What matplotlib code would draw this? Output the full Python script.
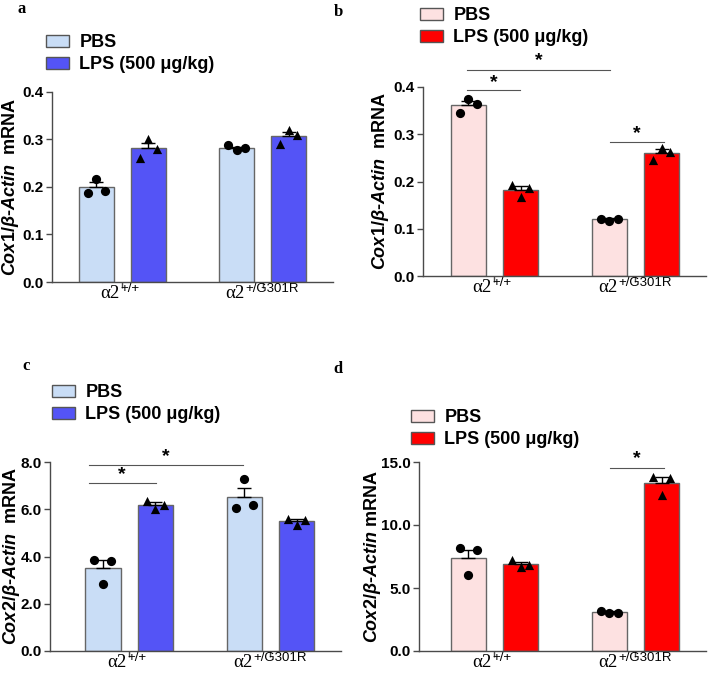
import matplotlib
matplotlib.use("Agg")
import matplotlib.pyplot as plt
from matplotlib.patches import Patch

plt.rcParams['font.family'] = ['Liberation Sans', 'DejaVu Sans']
plt.rcParams['mathtext.fontset'] = 'custom'
plt.rcParams['mathtext.it'] = 'Liberation Sans:italic:bold'
plt.rcParams['mathtext.rm'] = 'Liberation Sans:bold'
plt.rcParams['mathtext.bf'] = 'Liberation Sans:bold'

genotypes = ['+/+', '+/G301R']
legend_labels = ['PBS', 'LPS (500 \u03bcg/kg)']

# bar heights (mean) and SEM, [WT, mutant]
a_pbs = [0.200, 0.283]
a_pbs_err = [0.010, 0.002]
a_lps = [0.282, 0.307]
a_lps_err = [0.011, 0.008]
a_pbs_pts = [[0.188, 0.217, 0.191], [0.288, 0.278, 0.282]]
a_lps_pts = [[0.262, 0.300, 0.281], [0.290, 0.319, 0.310]]

b_pbs = [0.361, 0.120]
b_pbs_err = [0.009, 0.002]
b_lps = [0.183, 0.260]
b_lps_err = [0.007, 0.008]
b_pbs_pts = [[0.344, 0.374, 0.363], [0.121, 0.116, 0.121]]
b_lps_pts = [[0.192, 0.168, 0.187], [0.245, 0.270, 0.263]]

c_pbs = [3.51, 6.52]
c_pbs_err = [0.33, 0.36]
c_lps = [6.19, 5.49]
c_lps_err = [0.10, 0.08]
c_pbs_pts = [[3.84, 2.82, 3.81], [6.06, 7.29, 6.19]]
c_lps_pts = [[6.33, 6.02, 6.16], [5.60, 5.32, 5.53]]

d_pbs = [7.41, 3.10]
d_pbs_err = [0.63, 0.05]
d_lps = [6.93, 13.33]
d_lps_err = [0.17, 0.45]
d_pbs_pts = [[8.20, 6.06, 7.99], [3.17, 3.02, 3.04]]
d_lps_pts = [[7.20, 6.67, 6.80], [13.80, 12.35, 13.75]]

blue_light = '#C9DDF6'
blue_dark = '#5454F6'
pink = '#FDE1E1'
red = '#FF0000'
axcol = '#4a4a4a'

W, H = 708, 678
fig = plt.figure(figsize=(W / 100, H / 100), dpi=100)


def px_axes(l, t, r, b):
    return fig.add_axes([l / W, 1 - b / H, (r - l) / W, (b - t) / H])


def panel(ax, pbs, pbs_err, lps, lps_err, pbs_pts, lps_pts, cols, ymax, step,
          ylabel, xmin, lab_dx):
    off = 0.185
    bw = 0.25
    jit = [-0.06, 0, 0.06]
    for i in range(2):
        for x, h, e, pts, c, mk in [(i - off, pbs[i], pbs_err[i], pbs_pts[i], cols[0], 'o'),
                                     (i + off, lps[i], lps_err[i], lps_pts[i], cols[1], '^')]:
            ax.bar(x, h, width=bw, color=c, edgecolor='#666666', linewidth=1.0, zorder=2)
            ax.errorbar(x, h, yerr=[[0], [e]], color='black', capsize=5, elinewidth=1,
                        capthick=1, zorder=3)
            ax.scatter([x + j for j in jit], pts, marker=mk, s=44, color='black', zorder=4,
                       clip_on=False, linewidths=0)
    ax.set_xlim(xmin, 1.5)
    ax.set_ylim(0, ymax)
    ticks = [k * step for k in range(int(round(ymax / step)) + 1)]
    ax.set_yticks(ticks)
    ax.set_yticklabels(['{:.1f}'.format(t) for t in ticks], fontsize=11, fontweight='bold')
    ax.set_xticks([0, 1])
    ax.set_xticklabels([])
    for s in ['top', 'right']:
        ax.spines[s].set_visible(False)
    for s in ['left', 'bottom']:
        ax.spines[s].set_color(axcol)
        ax.spines[s].set_linewidth(1.0)
    ax.tick_params(axis='both', color=axcol, width=1.0, length=4, pad=2)
    ax.set_ylabel(ylabel, fontsize=13, fontweight='bold')
    w_px = ax.get_position().width * W
    ax.yaxis.set_label_coords(-lab_dx / w_px, 0.5)
    for i, g in enumerate(genotypes):
        dx = -3 if g == '+/+' else -18
        ax.annotate('\u03b12', xy=(i, 0), xycoords=('data', 'axes fraction'),
                    xytext=(dx, -16), textcoords='offset pixels', ha='right',
                    va='baseline', fontsize=13.5, family='Liberation Serif')
        ax.annotate(g, xy=(i, 0), xycoords=('data', 'axes fraction'),
                    xytext=(dx + 1, -10), textcoords='offset pixels', ha='left',
                    va='baseline', fontsize=9.5)


def bracket(ax, x1, x2, y, ytxt):
    ax.plot([x1, x2], [y, y], color='#555555', lw=0.8, clip_on=False)
    ax.text((x1 + x2) / 2, ytxt, '*', ha='center', va='center', fontsize=14,
            fontweight='bold', clip_on=False)


def legend(cols, x, y):
    handles = [Patch(facecolor=c, edgecolor='#555555', linewidth=1) for c in cols]
    fig.legend(handles, legend_labels, loc='upper left',
               bbox_to_anchor=(x / W, 1 - y / H), frameon=False,
               prop={'weight': 'bold', 'size': 13}, handlelength=1.3,
               handleheight=0.65, handletextpad=0.55, labelspacing=0.28,
               borderpad=0, borderaxespad=0)


ylab1 = r'$\mathit{Cox1/\beta}$' + '-' + r'$\mathit{Actin}$' + '  mRNA'
ylab2 = r'$\mathit{Cox2/\beta}$' + '-' + r'$\mathit{Actin}$' + '  mRNA'
ylab2d = r'$\mathit{Cox2/\beta}$' + '-' + r'$\mathit{Actin}$' + ' mRNA'

ax_a = px_axes(52, 92, 333, 282)
panel(ax_a, a_pbs, a_pbs_err, a_lps, a_lps_err, a_pbs_pts, a_lps_pts,
      (blue_light, blue_dark), 0.4, 0.1, ylab1, -0.5, 31)

ax_b = px_axes(423, 87, 706, 276)
panel(ax_b, b_pbs, b_pbs_err, b_lps, b_lps_err, b_pbs_pts, b_lps_pts,
      (pink, red), 0.4, 0.1, ylab1, -0.507, 32)
bracket(ax_b, -0.195, 0.82, 0.437, 0.455)
bracket(ax_b, -0.195, 0.18, 0.393, 0.410)
bracket(ax_b, 0.82, 1.2, 0.284, 0.302)

ax_c = px_axes(50, 462, 341, 651)
panel(ax_c, c_pbs, c_pbs_err, c_lps, c_lps_err, c_pbs_pts, c_lps_pts,
      (blue_light, blue_dark), 8.0, 2.0, ylab2, -0.56, 28)
bracket(ax_c, -0.287, 0.805, 7.86, 8.22)
bracket(ax_c, -0.287, 0.188, 7.11, 7.47)

ax_d = px_axes(419, 462, 706, 651)
panel(ax_d, d_pbs, d_pbs_err, d_lps, d_lps_err, d_pbs_pts, d_lps_pts,
      (pink, red), 15.0, 5.0, ylab2d, -0.535, 36)
bracket(ax_d, 0.82, 1.2, 14.55, 15.25)

legend((blue_light, blue_dark), 46, 34)
legend((pink, red), 420, 7)
legend((blue_light, blue_dark), 52, 384)
legend((pink, red), 411, 409)

for lab, x, y in [('a', 22, 9), ('b', 338, 12), ('c', 26, 366), ('d', 338, 369)]:
    fig.text(x / W, 1 - y / H, lab, ha='center', va='center', fontsize=12,
             fontweight='bold', family='Liberation Serif')

fig.savefig('out.png', dpi=100)
